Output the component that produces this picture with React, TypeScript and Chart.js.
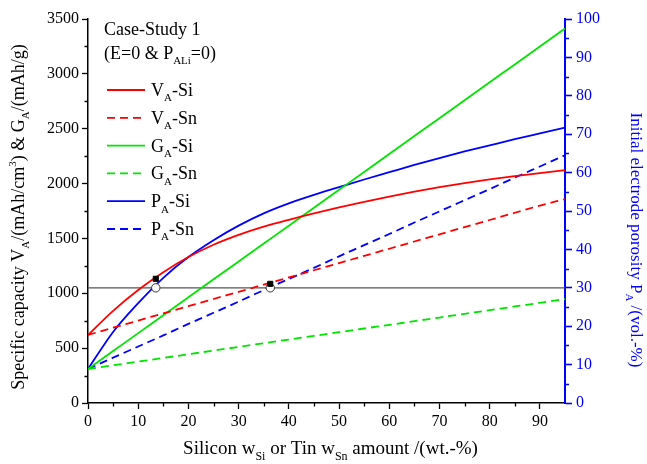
import React, { useEffect, useRef } from "react";
import { Chart, registerables } from "chart.js";

Chart.register(...registerables);

// ---------- data ----------
const xValues = [0, 5, 10, 15, 20, 25, 30, 35, 40, 45, 50, 55, 60, 65, 70, 75, 80, 85, 90, 95];
// specific capacity (left axis)
const vaSi = [620, 840, 1030, 1192, 1330, 1442, 1532, 1607, 1670, 1728, 1782, 1834, 1882, 1926, 1967, 2004, 2038, 2068, 2096, 2122];
const vaSn = [620, 686, 751, 817, 882, 948, 1013, 1079, 1144, 1210, 1275, 1341, 1406, 1472, 1537, 1603, 1668, 1734, 1799, 1859];
const gaSi = [310, 473, 637, 800, 963, 1127, 1290, 1453, 1616, 1780, 1943, 2106, 2270, 2433, 2596, 2760, 2923, 3086, 3250, 3413];
const gaSn = [310, 344, 377, 411, 444, 478, 511, 545, 578, 612, 645, 679, 712, 746, 779, 813, 846, 880, 913, 947];
// initial electrode porosity (right axis)
const paSi = [8.85, 18.5, 26.0, 32.6, 38.0, 42.4, 46.2, 49.4, 52.0, 54.2, 56.2, 58.2, 60.1, 62.0, 63.8, 65.5, 67.1, 68.7, 70.2, 71.7];
const paSn = [8.85, 11.8, 14.7, 17.6, 20.6, 23.5, 26.4, 29.4, 32.3, 35.2, 38.2, 41.1, 44.0, 47.0, 49.9, 52.8, 55.7, 58.7, 61.6, 64.5];

const xTickValues = [0, 10, 20, 30, 40, 50, 60, 70, 80, 90];
const xMinorTicks = [5, 15, 25, 35, 45, 55, 65, 75, 85];
const leftMinorTicks = [250, 750, 1250, 1750, 2250, 2750, 3250];
const rightMinorTicks = [5, 15, 25, 35, 45, 55, 65, 75, 85, 95];

const refCapacity = 1050;
const refPorosity = 30;
const markerX = [13.5, 36.3];
const markerCapacity = [1132, 1086];

// ---------- text helpers ----------
type Seg = { t: string; k?: "sub" | "sup" };
const FAMILY = '"Liberation Serif", "Times New Roman", serif';

function segFont(size: number, k?: string) {
  const s = k ? Math.round(size * 0.62) : size;
  return `${s}px ${FAMILY}`;
}
function segWidth(ctx: CanvasRenderingContext2D, segs: Seg[], size: number) {
  let w = 0;
  for (const s of segs) {
    ctx.font = segFont(size, s.k);
    w += ctx.measureText(s.t).width;
  }
  return w;
}
function drawSegs(
  ctx: CanvasRenderingContext2D,
  segs: Seg[],
  x: number,
  y: number,
  size: number,
  align: "left" | "center"
) {
  let cx = align === "center" ? x - segWidth(ctx, segs, size) / 2 : x;
  ctx.textAlign = "left";
  ctx.textBaseline = "alphabetic";
  for (const s of segs) {
    ctx.font = segFont(size, s.k);
    const dy = s.k === "sub" ? size * 0.3 : s.k === "sup" ? -size * 0.42 : 0;
    ctx.fillText(s.t, cx, y + dy);
    cx += ctx.measureText(s.t).width;
  }
}

const RED = "#ff0000";
const GREEN = "#00e400";
const BLUE = "#0000ff";
const DASH = [8, 5];

const legendItems = [
  { name: "V", suffix: "-Si", color: RED, dash: [] as number[] },
  { name: "V", suffix: "-Sn", color: RED, dash: DASH },
  { name: "G", suffix: "-Si", color: GREEN, dash: [] as number[] },
  { name: "G", suffix: "-Sn", color: GREEN, dash: DASH },
  { name: "P", suffix: "-Si", color: BLUE, dash: [] as number[] },
  { name: "P", suffix: "-Sn", color: BLUE, dash: DASH },
];

const decorPlugin = {
  id: "decor",
  afterDraw(chart: any) {
    const ctx: CanvasRenderingContext2D = chart.ctx;
    const area = chart.chartArea;
    const sx = chart.scales.x;
    const sy = chart.scales.y;
    const sy1 = chart.scales.y1;
    ctx.save();

    // minor ticks
    ctx.lineWidth = 1.3;
    ctx.strokeStyle = "#000";
    ctx.beginPath();
    for (const v of xMinorTicks) {
      const px = Math.round(sx.getPixelForValue(v)) + 0.5;
      ctx.moveTo(px, area.bottom);
      ctx.lineTo(px, area.bottom + 3.5);
    }
    for (const v of leftMinorTicks) {
      const py = Math.round(sy.getPixelForValue(v)) + 0.5;
      ctx.moveTo(area.left, py);
      ctx.lineTo(area.left - 3.5, py);
    }
    ctx.stroke();
    ctx.strokeStyle = BLUE;
    ctx.lineWidth = 1.6;
    ctx.beginPath();
    for (const v of rightMinorTicks) {
      const py = Math.round(sy1.getPixelForValue(v)) + 0.5;
      ctx.moveTo(area.right, py);
      ctx.lineTo(area.right + 4, py);
    }
    ctx.stroke();

    // axis titles
    ctx.fillStyle = "#000";
    const xTitle: Seg[] = [
      { t: "Silicon w" },
      { t: "Si", k: "sub" },
      { t: " or Tin w" },
      { t: "Sn", k: "sub" },
      { t: " amount /(wt.-%)" },
    ];
    drawSegs(ctx, xTitle, (area.left + area.right) / 2 + 4, 454, 19, "center");

    const yTitle: Seg[] = [
      { t: "Specific capacity V" },
      { t: "A", k: "sub" },
      { t: "/(mAh/cm" },
      { t: "3", k: "sup" },
      { t: ") & G" },
      { t: "A", k: "sub" },
      { t: "/(mAh/g)" },
    ];
    ctx.save();
    ctx.translate(24, 217);
    ctx.rotate(-Math.PI / 2);
    drawSegs(ctx, yTitle, 0, 0, 18, "center");
    ctx.restore();

    const y1Title: Seg[] = [
      { t: "Initial electrode porosity P" },
      { t: "A", k: "sub" },
      { t: " /(vol.-%)" },
    ];
    ctx.save();
    ctx.fillStyle = BLUE;
    ctx.translate(631, 240);
    ctx.rotate(Math.PI / 2);
    drawSegs(ctx, y1Title, 0, 0, 17, "center");
    ctx.restore();

    // legend block
    ctx.fillStyle = "#000";
    drawSegs(ctx, [{ t: "Case-Study 1" }], 104, 35, 18, "left");
    drawSegs(
      ctx,
      [{ t: "(E=0 & P" }, { t: "ALi", k: "sub" }, { t: "=0)" }],
      104,
      59,
      18,
      "left"
    );
    legendItems.forEach((it, i) => {
      const ly = 90 + i * 27.8;
      ctx.strokeStyle = it.color;
      ctx.lineWidth = 1.8;
      ctx.setLineDash(it.dash);
      ctx.beginPath();
      ctx.moveTo(107, ly);
      ctx.lineTo(145, ly);
      ctx.stroke();
      ctx.setLineDash([]);
      ctx.fillStyle = "#000";
      drawSegs(
        ctx,
        [{ t: it.name }, { t: "A", k: "sub" }, { t: it.suffix }],
        151,
        ly + 6,
        18,
        "left"
      );
    });
    ctx.restore();
  },
};

function series(values: number[]) {
  return xValues.map((x, i) => ({ x, y: values[i] }));
}

export default function App() {
  const ref = useRef<HTMLCanvasElement | null>(null);

  useEffect(() => {
    if (!ref.current) return;
    const lineBase = {
      pointRadius: 0,
      borderWidth: 1.8,
      fill: false,
      cubicInterpolationMode: "monotone" as const,
    };
    const tickFont = { family: FAMILY, size: 16 };
    const chart = new Chart(ref.current, {
      type: "line",
      data: {
        datasets: [
          {
            label: "markers-sq",
            data: markerX.map((x, i) => ({ x, y: markerCapacity[i] })),
            yAxisID: "y",
            showLine: false,
            pointStyle: "rect",
            pointRadius: 3.6,
            pointBackgroundColor: "#000",
            pointBorderColor: "#000",
            borderColor: "#000",
            order: -2,
          },
          {
            label: "markers-circ",
            data: markerX.map((x) => ({ x, y: refPorosity })),
            yAxisID: "y1",
            showLine: false,
            pointStyle: "circle",
            pointRadius: 4.2,
            pointBorderWidth: 1,
            pointBackgroundColor: "#fff",
            pointBorderColor: "#333",
            borderColor: "#333",
            order: -1,
          },
          { ...lineBase, label: "VA-Si", data: series(vaSi), yAxisID: "y", borderColor: RED },
          { ...lineBase, label: "VA-Sn", data: series(vaSn), yAxisID: "y", borderColor: RED, borderDash: DASH },
          { ...lineBase, label: "GA-Si", data: series(gaSi), yAxisID: "y", borderColor: GREEN },
          { ...lineBase, label: "GA-Sn", data: series(gaSn), yAxisID: "y", borderColor: GREEN, borderDash: DASH },
          { ...lineBase, label: "PA-Si", data: series(paSi), yAxisID: "y1", borderColor: BLUE },
          { ...lineBase, label: "PA-Sn", data: series(paSn), yAxisID: "y1", borderColor: BLUE, borderDash: DASH },
          {
            label: "ref",
            data: [
              { x: xValues[0], y: refCapacity },
              { x: xValues[xValues.length - 1], y: refCapacity },
            ],
            yAxisID: "y",
            pointRadius: 0,
            borderWidth: 1.2,
            borderColor: "#555",
            order: 10,
          },
        ],
      },
      options: {
        animation: false,
        responsive: false,
        events: [],
        layout: { padding: { top: 19, left: 0, right: 0, bottom: 0 } },
        plugins: { legend: { display: false }, tooltip: { enabled: false } },
        scales: {
          x: {
            type: "linear",
            min: 0,
            max: 95,
            afterBuildTicks: (s: any) => {
              s.ticks = xTickValues.map((v) => ({ value: v }));
            },
            afterFit: (s: any) => {
              s.height = 61;
            },
            ticks: { color: "#000", font: tickFont, padding: 3, maxRotation: 0, callback: (v: any) => String(v) },
            grid: { display: true, drawOnChartArea: false, drawTicks: true, tickLength: 6, tickColor: "#000", tickWidth: 1.3 },
            border: { display: true, color: "#000", width: 1.5 },
          },
          y: {
            type: "linear",
            position: "left",
            min: 0,
            max: 3500,
            afterFit: (s: any) => {
              s.width = 88;
            },
            ticks: { stepSize: 500, color: "#000", font: tickFont, padding: 3, callback: (v: any) => String(v) },
            grid: { display: true, drawOnChartArea: false, drawTicks: true, tickLength: 6, tickColor: "#000", tickWidth: 1.3 },
            border: { display: true, color: "#000", width: 1.5 },
          },
          y1: {
            type: "linear",
            position: "right",
            min: 0,
            max: 100,
            afterFit: (s: any) => {
              s.width = 82;
            },
            ticks: { stepSize: 10, color: BLUE, font: tickFont, padding: 4, callback: (v: any) => String(v) },
            grid: { display: true, drawOnChartArea: false, drawTicks: true, tickLength: 7, tickColor: BLUE, tickWidth: 1.6 },
            border: { display: true, color: BLUE, width: 2 },
          },
        },
      },
      plugins: [decorPlugin],
    } as any);
    return () => chart.destroy();
  }, []);

  return (
    <div style={{ position: "absolute", left: 0, top: 0, width: 647, height: 464, background: "#fff" }}>
      <canvas ref={ref} width={647} height={464} style={{ display: "block" }} />
    </div>
  );
}
